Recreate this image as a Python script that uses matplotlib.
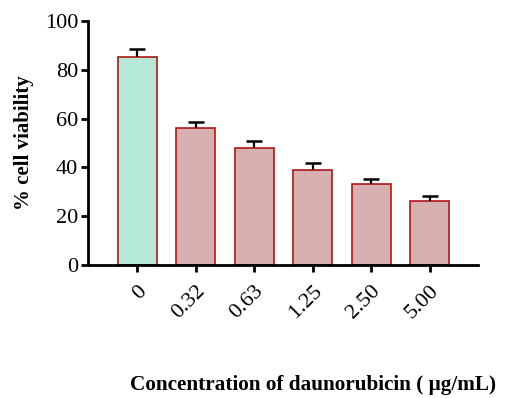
import matplotlib
matplotlib.use("Agg")
from matplotlib import pyplot as plt

# data
concentrations = ["0", "0.32", "0.63", "1.25", "2.50", "5.00"]
viability = [85.2, 56.1, 48.0, 38.9, 33.1, 26.2]
errors = [3.3, 2.5, 2.8, 2.8, 2.3, 2.1]

plt.rcParams['font.family'] = ['Liberation Serif', 'DejaVu Serif']

fig = plt.figure(figsize=(5.06, 3.98), dpi=100)
ax = fig.add_axes([0.174, 0.334, 0.771, 0.613])

colors = ["#b5e8d7"] + ["#d7b1b0"] * (len(viability) - 1)
x = list(range(len(viability)))
ax.bar(x, viability, width=0.67, color=colors, edgecolor="#b01515", linewidth=1.2, zorder=2)
# one-sided error bars (upper only) with a cap on top
ax.errorbar(x, viability, yerr=[[0] * len(errors), errors], fmt="none",
            ecolor="black", elinewidth=1.6, capsize=0, zorder=3)
tops = [v + e for v, e in zip(viability, errors)]
ax.plot(x, tops, ls="none", marker="_", markersize=11, mew=1.8, color="black", zorder=3)

ax.set_xlim(-0.84, 5.83)
ax.set_ylim(0, 100)
ax.set_yticks([0, 20, 40, 60, 80, 100])
ax.set_xticks(x)
ax.set_xticklabels(concentrations, rotation=45, ha="right", va="top", rotation_mode="anchor")
ax.tick_params(axis="both", labelsize=16, width=2, length=5, direction="out")
ax.tick_params(axis="x", pad=7)
ax.tick_params(axis="y", pad=2)
for s in ["top", "right"]:
    ax.spines[s].set_visible(False)
for s in ["left", "bottom"]:
    ax.spines[s].set_linewidth(2)

ax.set_ylabel("% cell viability", fontsize=15, fontweight="bold", labelpad=8)
fig.text(0.618, 0.008, "Concentration of daunorubicin ( \u03bcg/mL)", fontsize=15.3,
         fontweight="bold", ha="center", va="bottom")

fig.savefig("out.png", dpi=100)
